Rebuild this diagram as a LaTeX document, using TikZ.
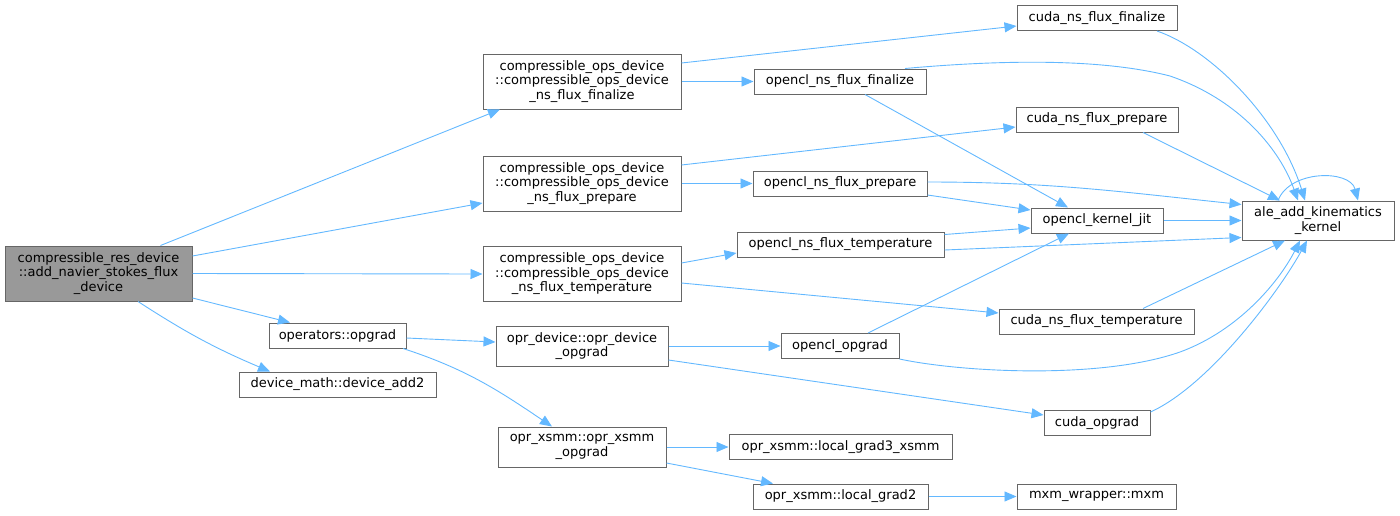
\documentclass[tikz,border=0pt]{standalone}
\usepackage{fontspec}
\setmainfont{DejaVu Sans}
\usetikzlibrary{arrows.meta}
\definecolor{edgeblue}{HTML}{63B8FF}
\definecolor{boxgray}{HTML}{666666}
\definecolor{mainfill}{HTML}{999999}
\tikzset{
  fn/.style={draw=boxgray, line width=1pt, fill=white, align=center,
    font=\fontsize{13}{14.5}\selectfont, inner xsep=3pt, inner ysep=2pt,
    minimum height=25pt},
  call/.style={draw=edgeblue, line width=0.9pt, -{Triangle[length=12pt,width=10pt]}},
}

\begin{document}
\begin{tikzpicture}[x=1pt,y=1pt]
\useasboundingbox (0,0) rectangle (1400,-515);
    % Caller
    \node[fn, fill=mainfill, minimum width=187pt, minimum height=55pt] (main) at (98.5,-273.5)
        {compressible\_res\_device\\::add\_navier\_stokes\_flux\\\_device};
    % First column
    \node[fn, minimum width=198pt, minimum height=55pt] (opsfin) at (582,-81.5)
        {compressible\_ops\_device\\::compressible\_ops\_device\\\_ns\_flux\_finalize};
    \node[fn, minimum width=198pt, minimum height=55pt] (opsprep) at (582,-183.5)
        {compressible\_ops\_device\\::compressible\_ops\_device\\\_ns\_flux\_prepare};
    \node[fn, minimum width=198pt, minimum height=55pt] (opstemp) at (582,-274)
        {compressible\_ops\_device\\::compressible\_ops\_device\\\_ns\_flux\_temperature};
    \node[fn, minimum width=137pt] (opgrad) at (337.5,-335.5) {operators::opgrad};
    \node[fn, minimum width=197pt] (addtwo) at (337.5,-384.5) {device\_math::device\_add2};
    \node[fn, minimum width=172pt, minimum height=40pt] (oprdev) at (582,-346)
        {opr\_device::opr\_device\\\_opgrad};
    \node[fn, minimum width=168pt, minimum height=40pt] (oprxsmm) at (582,-447)
        {opr\_xsmm::opr\_xsmm\\\_opgrad};
    % Second column
    \node[fn, minimum width=172pt] (clfin) at (840,-81.5) {opencl\_ns\_flux\_finalize};
    \node[fn, minimum width=174pt] (clprep) at (840,-183.5) {opencl\_ns\_flux\_prepare};
    \node[fn, minimum width=207pt] (cltemp) at (840.5,-244.5) {opencl\_ns\_flux\_temperature};
    \node[fn, minimum width=118pt] (clopgrad) at (840,-346) {opencl\_opgrad};
    \node[fn, minimum width=223pt] (grad3) at (840.5,-447) {opr\_xsmm::local\_grad3\_xsmm};
    \node[fn, minimum width=175pt] (grad2) at (840.5,-496.5) {opr\_xsmm::local\_grad2};
    % Third column
    \node[fn, minimum width=160pt] (cudafin) at (1097,-18) {cuda\_ns\_flux\_finalize};
    \node[fn, minimum width=162pt] (cudaprep) at (1097,-119.5) {cuda\_ns\_flux\_prepare};
    \node[fn, minimum width=132pt] (jit) at (1097,-220.5) {opencl\_kernel\_jit};
    \node[fn, minimum width=195pt] (cudatemp) at (1096.5,-321.5) {cuda\_ns\_flux\_temperature};
    \node[fn, minimum width=106pt] (cudaopgrad) at (1097,-423) {cuda\_opgrad};
    \node[fn, minimum width=159pt] (mxm) at (1096.5,-496.5) {mxm\_wrapper::mxm};
    % Kernel
    \node[fn, minimum width=152pt, minimum height=39pt] (ale) at (1318,-220.5)
        {ale\_add\_kinematics\\\_kernel};

    % Calls from the caller
    \draw[call] ([xshift=62pt]main.north) -- ([xshift=-82pt]opsfin.south);
    \draw[call] ([yshift=17.5pt]main.east) -- ([yshift=-19.5pt]opsprep.west);
    \draw[call] (main.east) -- (opstemp.west);
    \draw[call] ([yshift=-24.5pt]main.east) -- ([xshift=-47.5pt]opgrad.north);
    \draw[call] ([xshift=39.5pt]main.south) to[bend right=5] ([xshift=-67.5pt]addtwo.north);
    % compressible_ops_device
    \draw[call] ([yshift=18.5pt]opsfin.east) -- ([yshift=-8pt]cudafin.west);
    \draw[call] (opsfin.east) -- (clfin.west);
    \draw[call] ([yshift=18.5pt]opsprep.east) -- ([yshift=-7.5pt]cudaprep.west);
    \draw[call] (opsprep.east) -- (clprep.west);
    \draw[call] ([yshift=11pt]opstemp.east) -- ([yshift=-8.5pt]cltemp.west);
    \draw[call] ([yshift=-9pt]opstemp.east) -- ([yshift=8.5pt]cudatemp.west);
    % opgrad
    \draw[call] ([yshift=-2.5pt]opgrad.east) -- ([yshift=4pt]oprdev.west);
    \draw[call] ([xshift=65.5pt]opgrad.south) to[out=-18,in=146] ([xshift=-30pt]oprxsmm.north);
    \draw[call] (oprdev.east) -- (clopgrad.west);
    \draw[call] ([yshift=-14pt]oprdev.east) -- ([yshift=8pt]cudaopgrad.west);
    \draw[call] (oprxsmm.east) -- (grad3.west);
    \draw[call] ([yshift=-16pt]oprxsmm.east) -- ([xshift=-67.5pt]grad2.north);
    \draw[call] (grad2.east) -- (mxm.west);
    % opencl / cuda into the kernel
    \draw[call] ([xshift=65pt]clfin.north) .. controls (1000,-60) and (1100,-58) .. (1170,-76)
        .. controls (1240,-100) and (1280,-150) .. ([xshift=-20pt]ale.north);
    \draw[call] ([xshift=25pt]clfin.south) -- ([xshift=-29pt]jit.north);
    \draw[call] ([xshift=60pt]cudafin.south) .. controls (1212,-50) and (1280,-120) .. ([xshift=-13pt]ale.north);
    \draw[call] ([xshift=46pt]cudaprep.south) -- ([xshift=-38pt]ale.north);
    \draw[call] ([yshift=1.5pt]clprep.east) to[out=0,in=174] ([yshift=16pt]ale.west);
    \draw[call] ([yshift=-11.5pt]clprep.east) -- ([yshift=10.5pt]jit.west);
    \draw[call] (jit.east) -- (ale.west);
    \draw[call] ([yshift=10pt]cltemp.east) -- ([yshift=-7.5pt]jit.west);
    \draw[call] ([yshift=-5.5pt]cltemp.east) -- ([yshift=-17pt]ale.west);
    \draw[call] ([xshift=-40pt]ale.north) .. controls +(12,31) and +(-8,31) .. ([xshift=40pt]ale.north);
    \draw[call] ([xshift=46.5pt]cudatemp.north) -- ([xshift=-33pt]ale.south);
    \draw[call] ([xshift=28pt]clopgrad.north) -- ([xshift=-28pt]jit.south);
    \draw[call] (clopgrad.south east) .. controls (960,-372) and (1100,-380) .. (1180,-352)
        .. controls (1240,-330) and (1280,-280) .. ([xshift=-18pt]ale.south);
    \draw[call] ([yshift=11pt]cudaopgrad.east) .. controls (1210,-385) and (1280,-290) .. ([xshift=-11pt]ale.south);
\end{tikzpicture}
\end{document}
